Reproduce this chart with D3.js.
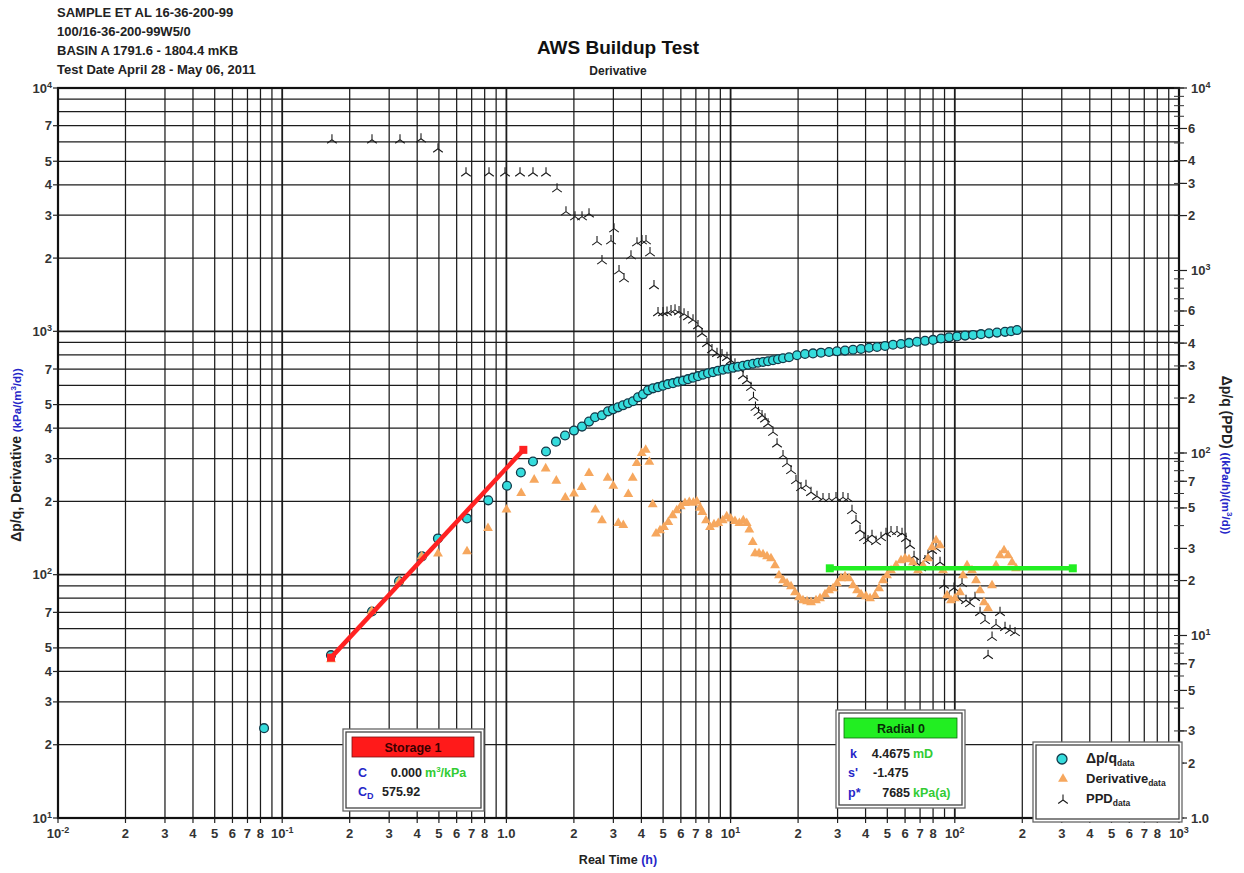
<!DOCTYPE html>
<html>
<head>
<meta charset="utf-8">
<script src="https://cdn.jsdelivr.net/npm/d3@7"></script>
<style>
  html, body { margin: 0; padding: 0; background: #fff; }
  svg { display: block; font-family: "Liberation Sans", Arial, sans-serif; }
</style>
</head>
<body>
<svg id="chart" width="1244" height="873"></svg>
<script>
// ---- Header ----
const headerLines = [
  "SAMPLE ET AL 16-36-200-99",
  "100/16-36-200-99W5/0",
  "BASIN A 1791.6 - 1804.4 mKB",
  "Test Date April 28 - May 06, 2011"
];
const chartTitle = "AWS Buildup Test";
const chartSubtitle = "Derivative";

// ---- Pressure change (Δp/q), time in hours, kPa/(m³/d) ----
const dpqTime = [0.083, 0.165, 0.2515, 0.332, 0.420, 0.495, 0.667, 0.83, 1.006, 1.16, 1.314, 1.502, 1.664, 1.826,
  2.002, 2.174, 2.336, 2.484, 2.669, 2.839, 2.988, 3.146, 3.311, 3.486, 3.67, 3.864, 4.068, 4.282, 4.508, 4.745,
  4.995, 5.258, 5.535, 5.827, 6.134, 6.457, 6.797, 7.155, 7.532, 7.929, 8.347, 8.787, 9.25, 9.737, 10.25, 10.79,
  11.36, 11.96, 12.59, 13.25, 13.95, 14.69, 15.46, 16.27, 17.13, 18.22, 19.78, 21.47, 23.31, 25.31, 27.48, 29.83,
  32.39, 35.16, 38.17, 41.44, 44.99, 48.85, 53.02, 57.56, 62.49, 67.85, 73.66, 79.97, 86.82, 94.24, 102.3, 111.1,
  120.6, 130.9, 142.1, 154.3, 167.5, 178.2, 189.5];
const dpqValue = [23.4, 46.7, 70.6, 93.9, 118.9, 140.9, 170.2, 202, 232, 263, 291.7, 320.6, 352, 373,
  391, 406, 425.6, 443.6, 451.9, 469, 478, 487, 496.6, 506, 515.8, 535.6, 551, 572, 583, 589.6,
  598, 606.7, 612.4, 621.2, 627.1, 636, 645, 654.3, 663.5, 673, 679.5, 689.1, 695.6, 702.2, 708.9, 715.6,
  722.4, 729.3, 736.2, 743.2, 748.2, 753.8, 761, 768.2, 775.5, 782.9, 797.8, 807, 811.5, 817, 822.4, 827.8,
  833.4, 839.7, 846.1, 855.7, 862.3, 870.4, 881.1, 887, 896.2, 906.5, 914.2, 922.1, 934.3, 945, 953, 960.3,
  966.4, 973.9, 981.3, 987.9, 995.3, 1001, 1012];

// ---- Pressure derivative, kPa/(m³/d) ----
const derivTime = [0.1651, 0.2507, 0.3329, 0.4189, 0.4953, 0.6672, 0.8277, 1.001, 1.164, 1.33, 1.497, 1.67, 1.831,
  2.002, 2.167, 2.336, 2.492, 2.669, 2.83, 2.998, 3.156, 3.322, 3.498, 3.659, 3.814, 4.013, 4.181, 4.339, 4.494,
  4.649, 4.844, 5.047, 5.275, 5.516, 5.749, 5.99, 6.26, 6.543, 6.818, 7.061, 7.304, 7.479, 7.768, 8.092, 8.433,
  8.813, 9.222, 9.608, 10.01, 10.46, 10.94, 11.39, 11.8, 12.12, 12.55, 12.85, 13.39, 13.95, 14.54, 15.14, 15.78,
  16.44, 17.13, 17.85, 18.6, 19.38, 20.19, 21.03, 21.92, 22.84, 24.04, 25.05, 26.37, 27.48, 28.63, 29.83, 31.09,
  32.39, 33.75, 35.16, 36.64, 38.17, 40.18, 41.87, 44.07, 45.92, 47.85, 49.86, 51.94, 54.68, 57.56, 59.98, 62.49,
  65.11, 68.54, 72.15, 75.95, 79.14, 82.46, 85.92, 88.6, 92.3, 96.2, 100.2, 105.5, 108.8, 113.4, 119.3, 124.4,
  129.6, 135.0, 140.7, 146.6, 152.7, 159.1, 165.8, 172.8, 180.0, 187.6];
const derivValue = [44.9, 70.8, 93.9, 118.9, 122, 124.7, 155.3, 185, 216.2, 245.4, 273, 243.1, 207,
  215, 228.8, 261.2, 184.8, 167.1, 250, 231.8, 162.8, 159.8, 214.2, 250, 287, 315.5, 325.8, 290.9, 194.3,
  147.3, 152, 156.8, 164.3, 175.1, 183.5, 190.6, 196.6, 198.5, 197.4, 199.8, 188.3, 180.7, 167.1, 156.8, 160.9,
  162.8, 167.1, 173.4, 169.7, 165.9, 162.8, 167.1, 162.8, 153, 136.1, 122.3, 122.3, 121.2, 118.9, 116.7, 109.2,
  99.3, 94.8, 92.1, 89.5, 84.6, 80.7, 78.4, 77.7, 77.0, 78.4, 79.9, 83.0, 86.2, 87.8, 92.1, 96.6,
  98.4, 96.6, 90.4, 86.2, 83.0, 81.5, 79.9, 82.2, 87.8, 94.8, 99.3, 104.2, 109.2, 114.5, 116.7, 115.6,
  112.3, 104.2, 109.2, 116.7, 129.4, 138.3, 131.9, 104.2, 82.2, 78.4, 79.9, 84.6, 99.3, 109.2, 104.2, 94.8,
  86.2, 77.0, 72.7, 90.4, 109.2, 120.0, 125.8, 120.0, 112.3, 106.1];

// ---- Primary pressure derivative (PPD), (kPa/h)/(m³/d), right axis ----
const ppdTime = [0.1667, 0.2515, 0.3353, 0.416, 0.4953, 0.6604, 0.8364, 0.9858, 1.15, 1.314, 1.502, 1.682, 1.844,
  2.023, 2.174, 2.336, 2.536, 2.669, 2.928, 3.02, 3.179, 3.346, 3.595, 3.824, 4.025, 4.194, 4.37, 4.553, 4.745,
  4.995, 5.204, 5.423, 5.651, 5.888, 6.199, 6.457, 6.797, 7.155, 7.457, 7.849, 8.26, 8.697, 9.155, 9.636, 10.04,
  10.46, 10.9, 11.36, 11.83, 12.33, 12.65, 12.91, 13.32, 13.81, 14.24, 14.69, 15.46, 16.11, 17.13, 17.85, 18.6,
  19.57, 20.61, 21.69, 22.84, 24.28, 25.83, 27.48, 29.52, 31.72, 33.39, 34.79, 36.25, 37.77, 39.36, 41.01, 42.73,
  44.52, 46.87, 49.34, 51.94, 55.24, 58.15, 60.59, 63.13, 65.79, 67.85, 70.69, 73.63, 75.95, 79.14, 82.46, 85.92,
  89.52, 94.24, 99.2, 103.4, 107.7, 112.2, 116.9, 123.1, 129.6, 136.4, 140.7, 146.6, 152.7, 159.1, 167.5, 176.3,
  185.6];
const ppdValue = [5206, 5206, 5206, 5272, 4647, 3434, 3434, 3434, 3434, 3434, 3434, 2808, 2101,
  1972, 1972, 2048, 1440, 1133, 1458, 1696, 999, 903, 1206, 1421, 1458, 1458, 1253, 827, 588.5,
  588.5, 592, 603, 608.6, 595.7, 578.6, 559.3, 536.5, 499.4, 451.4, 399.5, 369, 352.2, 346.5, 334.9, 321.2,
  308.2, 289.3, 265.9, 249.7, 229.5, 202.3, 178.4, 167.4, 160.6, 154.1, 144.7, 130.2, 112.4, 97.0, 87.7, 80.3,
  70.8, 64.8, 66.5, 60.9, 57.9, 56.4, 56.4, 57.1, 57.1, 56.4, 48.5, 42.8, 37.7, 34.5, 33.2, 35.4,
  32.8, 34.5, 36.3, 37.2, 37.2, 36.3, 34.1, 31.2, 27.2, 24.9, 23.6, 25.8, 27.5, 29.3, 30.1, 25.2,
  18.9, 16.2, 18.2, 16.0, 19.3, 15.6, 15.0, 16.2, 13.4, 12.1, 7.8, 9.8, 11.5, 13.4, 11.1, 10.7,
  10.4];

// ---- Analysis lines ----
const storageLineTime = [0.1651, 1.19];
const storageLineValue = [45.6, 325.8];
const radialLineTime = [27.7, 336];
const radialLineValue = [106.2, 106.2];

// ---- Axis ticks ----
const xTickValues = [0.01,0.02,0.03,0.04,0.05,0.06,0.07,0.08,0.1,0.2,0.3,0.4,0.5,0.6,0.7,0.8,1,2,3,4,5,6,7,8,
  10,20,30,40,50,60,70,80,100,200,300,400,500,600,700,800,1000];
const xTickText = ["10^-2","2","3","4","5","6","7","8","10^-1","2","3","4","5","6","7","8","1.0","2","3","4","5","6","7","8",
  "10^1","2","3","4","5","6","7","8","10^2","2","3","4","5","6","7","8","10^3"];
const yLeftTickValues = [10,20,30,40,50,70,100,200,300,400,500,700,1000,2000,3000,4000,5000,7000,10000];
const yLeftTickText = ["10^1","2","3","4","5","7","10^2","2","3","4","5","7","10^3","2","3","4","5","7","10^4"];
const yRightTickValues = [1,2,3,5,7,10,20,30,50,70,100,200,300,400,600,1000,2000,3000,4000,6000,10000];
const yRightTickText = ["1.0","2","3","5","7","10^1","2","3","5","7","10^2","2","3","4","6","10^3","2","3","4","6","10^4"];

// ---- Layout ----
const svg = d3.select("#chart");
const plot = { left: 58, right: 1179, top: 88, bottom: 818 };
const x = d3.scaleLog().domain([0.01, 1000]).range([plot.left, plot.right]);
const yL = d3.scaleLog().domain([10, 10000]).range([plot.bottom, plot.top]);
const yR = d3.scaleLog().domain([1, 10000]).range([plot.bottom, plot.top]);

const blue = "#2626c8", green = "#33cc33", labelColor = "#333";

function allIntegers(lo, hi) {
  const out = [];
  for (let p = lo; p < hi; p *= 10) for (let k = 1; k <= 9; k++) out.push(k * p);
  out.push(hi);
  return out;
}
const isDecade = d => Math.abs(Math.log10(d) - Math.round(Math.log10(d))) < 1e-9;

// Text with "10^n" rendered as a superscript
function powerText(sel, s, supSize) {
  const m = /^10\^(-?\d+)$/.exec(s);
  if (m) {
    sel.append("tspan").text("10");
    sel.append("tspan").attr("dy", -5).attr("font-size", supSize).text(m[1]);
  } else {
    sel.text(s);
  }
}

// ---- Header and titles ----
svg.append("g").selectAll("text").data(headerLines).join("text")
  .attr("x", 57).attr("y", (d, i) => 17 + i * 19)
  .attr("font-size", 13).attr("font-weight", "bold").attr("fill", "#222").text(d => d);

svg.append("text").attr("x", 618).attr("y", 54).attr("text-anchor", "middle")
  .attr("font-size", 19).attr("font-weight", "bold").attr("fill", "#111").text(chartTitle);
svg.append("text").attr("x", 618).attr("y", 75).attr("text-anchor", "middle")
  .attr("font-size", 12).attr("font-weight", "bold").attr("fill", "#222").text(chartSubtitle);

// ---- Grid ----
const grid = svg.append("g");
grid.selectAll("line.v").data(allIntegers(0.01, 1000)).join("line")
  .attr("x1", d => x(d)).attr("x2", d => x(d))
  .attr("y1", plot.top).attr("y2", plot.bottom)
  .attr("stroke", "#1c1c1c")
  .attr("stroke-width", d => isDecade(d) ? 1.8 : 1.25);
grid.selectAll("line.h").data(allIntegers(10, 10000)).join("line")
  .attr("y1", d => yL(d)).attr("y2", d => yL(d))
  .attr("x1", plot.left).attr("x2", plot.right)
  .attr("stroke", "#1c1c1c")
  .attr("stroke-width", d => isDecade(d) ? 1.8 : 1.25);

// Frame
svg.append("rect").attr("x", plot.left).attr("y", plot.top)
  .attr("width", plot.right - plot.left).attr("height", plot.bottom - plot.top)
  .attr("fill", "none").attr("stroke", "#111").attr("stroke-width", 2.2);

// ---- Axes ----
const axisG = svg.append("g").attr("font-weight", "bold").attr("fill", labelColor).attr("font-size", 13);

// bottom
axisG.selectAll("line.bt").data(xTickValues).join("line")
  .attr("x1", d => x(d)).attr("x2", d => x(d)).attr("y1", plot.bottom).attr("y2", plot.bottom + 5)
  .attr("stroke", "#222").attr("stroke-width", 1.2);
axisG.selectAll("text.bl").data(xTickValues).join("text")
  .attr("x", d => x(d)).attr("y", plot.bottom + 20).attr("text-anchor", "middle")
  .each(function(d, i) { powerText(d3.select(this), xTickText[i], 9); });

// left
axisG.selectAll("line.lt").data(yLeftTickValues).join("line")
  .attr("x1", plot.left - 5).attr("x2", plot.left).attr("y1", d => yL(d)).attr("y2", d => yL(d))
  .attr("stroke", "#222").attr("stroke-width", 1.2);
axisG.selectAll("text.ll").data(yLeftTickValues).join("text")
  .attr("x", plot.left - 6).attr("y", d => yL(d) + 4.5).attr("text-anchor", "end")
  .each(function(d, i) { powerText(d3.select(this), yLeftTickText[i], 9); });

// right
axisG.selectAll("line.rm").data(allIntegers(1, 10000)).join("line")
  .attr("x1", plot.right - 5).attr("x2", plot.right + 5).attr("y1", d => yR(d)).attr("y2", d => yR(d))
  .attr("stroke", "#333").attr("stroke-width", 1);
axisG.selectAll("line.rt").data(yRightTickValues).join("line")
  .attr("x1", plot.right).attr("x2", plot.right + 8).attr("y1", d => yR(d)).attr("y2", d => yR(d))
  .attr("stroke", "#222").attr("stroke-width", 1.2);
axisG.selectAll("text.rl").data(yRightTickValues).join("text")
  .attr("x", d => isDecade(d) ? plot.right + 12 : plot.right + 9)
  .attr("y", d => yR(d) + 4.5).attr("text-anchor", "start")
  .each(function(d, i) { powerText(d3.select(this), yRightTickText[i], 9); });

// ---- Axis titles ----
const xt = svg.append("text").attr("x", 618).attr("y", 864).attr("text-anchor", "middle")
  .attr("font-size", 12.5).attr("font-weight", "bold").attr("fill", "#222");
xt.append("tspan").text("Real Time ");
xt.append("tspan").attr("fill", blue).text("(h)");

const ylt = svg.append("text").attr("transform", "translate(21,455) rotate(-90)")
  .attr("text-anchor", "middle").attr("font-weight", "bold").attr("fill", "#222");
ylt.append("tspan").attr("font-size", 14).text("Δp/q, Derivative ");
ylt.append("tspan").attr("font-size", 11.5).attr("fill", blue).text("(kPa/(m");
ylt.append("tspan").attr("font-size", 8).attr("fill", blue).attr("dy", -5).text("3");
ylt.append("tspan").attr("font-size", 11.5).attr("fill", blue).attr("dy", 5).text("/d))");

const yrt = svg.append("text").attr("transform", "translate(1222,455) rotate(90)")
  .attr("text-anchor", "middle").attr("font-weight", "bold").attr("fill", "#222");
yrt.append("tspan").attr("font-size", 14).text("Δp/q (PPD) ");
yrt.append("tspan").attr("font-size", 11.5).attr("fill", blue).text("((kPa/h)/(m");
yrt.append("tspan").attr("font-size", 8).attr("fill", blue).attr("dy", -5).text("3");
yrt.append("tspan").attr("font-size", 11.5).attr("fill", blue).attr("dy", 5).text("/d))");

// ---- Markers ----
const triangle = d3.symbol().type(d3.symbolTriangle).size(42);
const tristarPath = "M0,-5.5L0,0M0,0L-4.8,3.5M0,0L4.8,3.5";

const dpqData = dpqTime.map((t, i) => ({ t, v: dpqValue[i] }));
const derivData = derivTime.map((t, i) => ({ t, v: derivValue[i] }));
const ppdData = ppdTime.map((t, i) => ({ t, v: ppdValue[i] }));

svg.append("g").selectAll("path").data(ppdData).join("path")
  .attr("transform", d => `translate(${x(d.t)},${yR(d.v)})`)
  .attr("d", tristarPath).attr("fill", "none").attr("stroke", "#1a1a1a").attr("stroke-width", 1.1);

svg.append("g").selectAll("circle").data(dpqData).join("circle")
  .attr("cx", d => x(d.t)).attr("cy", d => yL(d.v)).attr("r", 4.4)
  .attr("fill", "#35dcdc").attr("stroke", "#123a4a").attr("stroke-width", 1.3);

svg.append("g").selectAll("path").data(derivData).join("path")
  .attr("transform", d => `translate(${x(d.t)},${yL(d.v)})`)
  .attr("d", triangle).attr("fill", "#f6a75e");

// ---- Analysis lines ----
function analysisLine(times, values, color) {
  const pts = times.map((t, i) => [x(t), yL(values[i])]);
  svg.append("path").attr("d", d3.line()(pts)).attr("stroke", color).attr("stroke-width", 4.5)
    .attr("fill", "none");
  svg.append("g").selectAll("rect").data(pts).join("rect")
    .attr("x", d => d[0] - 4).attr("y", d => d[1] - 4).attr("width", 8).attr("height", 8)
    .attr("fill", color);
}
analysisLine(storageLineTime, storageLineValue, "#ff2222");
analysisLine(radialLineTime, radialLineValue, "#22ee22");

// ---- Info boxes ----
function doubleBox(x0, y0, w, h) {
  svg.append("rect").attr("x", x0).attr("y", y0).attr("width", w).attr("height", h)
    .attr("fill", "#fff").attr("stroke", "#666").attr("stroke-width", 1.3);
  svg.append("rect").attr("x", x0 + 3).attr("y", y0 + 3).attr("width", w - 6).attr("height", h - 6)
    .attr("fill", "#fff").attr("stroke", "#444").attr("stroke-width", 1.3);
}

// Storage
doubleBox(343, 729, 141, 82);
svg.append("rect").attr("x", 352).attr("y", 737).attr("width", 122).attr("height", 20)
  .attr("fill", "#ff1a1a").attr("stroke", "#7a1010").attr("stroke-width", 0.8);
svg.append("text").attr("x", 413).attr("y", 752).attr("text-anchor", "middle")
  .attr("font-size", 12.5).attr("font-weight", "bold").attr("fill", "#3a0000").text("Storage 1");
const sg = svg.append("g").attr("font-size", 12.5).attr("font-weight", "bold");
sg.append("text").attr("x", 358).attr("y", 777).attr("fill", blue).text("C");
sg.append("text").attr("x", 422).attr("y", 777).attr("text-anchor", "end").attr("fill", "#222").text("0.000");
const cu = sg.append("text").attr("x", 425).attr("y", 777).attr("fill", green);
cu.append("tspan").text("m");
cu.append("tspan").attr("font-size", 8).attr("dy", -5).text("3");
cu.append("tspan").attr("dy", 5).text("/kPa");
const cd = sg.append("text").attr("x", 358).attr("y", 796).attr("fill", blue);
cd.append("tspan").text("C");
cd.append("tspan").attr("font-size", 9).attr("dy", 3).text("D");
sg.append("text").attr("x", 382).attr("y", 796).attr("fill", "#222").text("575.92");

// Radial
doubleBox(836, 710, 129, 98);
svg.append("rect").attr("x", 844).attr("y", 718).attr("width", 113).attr("height", 20)
  .attr("fill", "#22ee22").attr("stroke", "#0d6a0d").attr("stroke-width", 0.8);
svg.append("text").attr("x", 901).attr("y", 733).attr("text-anchor", "middle")
  .attr("font-size", 12.5).attr("font-weight", "bold").attr("fill", "#063006").text("Radial 0");
const rg = svg.append("g").attr("font-size", 12.5).attr("font-weight", "bold");
rg.append("text").attr("x", 850).attr("y", 758).attr("fill", blue).text("k");
rg.append("text").attr("x", 910).attr("y", 758).attr("text-anchor", "end").attr("fill", "#222").text("4.4675");
rg.append("text").attr("x", 913).attr("y", 758).attr("fill", green).text("mD");
rg.append("text").attr("x", 848).attr("y", 777).attr("fill", blue).text("s'");
rg.append("text").attr("x", 873).attr("y", 777).attr("fill", "#222").text("-1.475");
rg.append("text").attr("x", 848).attr("y", 797).attr("fill", blue).text("p*");
rg.append("text").attr("x", 910).attr("y", 797).attr("text-anchor", "end").attr("fill", "#222").text("7685");
rg.append("text").attr("x", 913).attr("y", 797).attr("fill", green).text("kPa(a)");

// ---- Legend ----
doubleBox(1033, 742, 149, 80);
const legendItems = [
  { name: "Δp/q", kind: "circle" },
  { name: "Derivative", kind: "triangle" },
  { name: "PPD", kind: "tristar" }
];
const lg = svg.append("g");
legendItems.forEach((it, i) => {
  const cy = 759 + i * 20;
  if (it.kind === "circle") {
    lg.append("circle").attr("cx", 1062).attr("cy", cy).attr("r", 5)
      .attr("fill", "#35dcdc").attr("stroke", "#123a4a").attr("stroke-width", 1.3);
  } else if (it.kind === "triangle") {
    lg.append("path").attr("transform", `translate(1063,${cy})`).attr("d", triangle).attr("fill", "#f6a75e");
  } else {
    lg.append("path").attr("transform", `translate(1063,${cy + 1})`).attr("d", tristarPath)
      .attr("fill", "none").attr("stroke", "#1a1a1a").attr("stroke-width", 1.1);
  }
  const t = lg.append("text").attr("x", 1086).attr("y", cy + 4).attr("font-weight", "bold").attr("fill", "#222");
  t.append("tspan").attr("font-size", it.kind === "circle" ? 14 : 13).text(it.name);
  t.append("tspan").attr("font-size", 8.5).attr("dy", 3).text("data");
});
</script>
</body>
</html>
